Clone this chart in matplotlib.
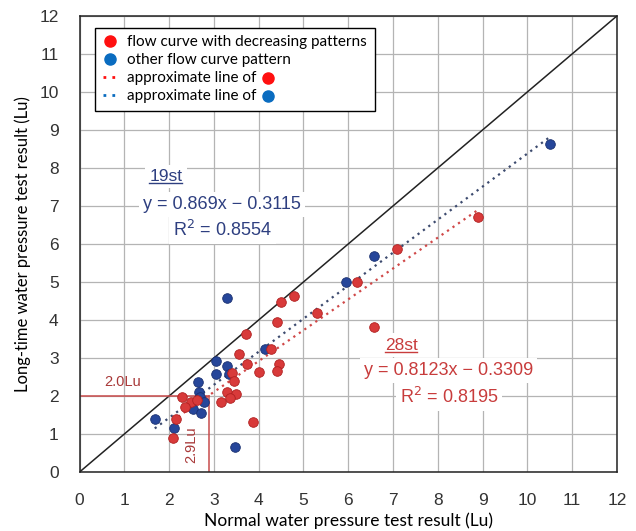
import matplotlib
matplotlib.use("Agg")
import matplotlib.pyplot as plt
from matplotlib.lines import Line2D
import numpy as np

# Flow curve with decreasing patterns (red): normal test (Lu), long-time test (Lu)
red_normal = [8.89, 7.08, 6.19, 6.57, 5.31, 4.79, 4.51, 4.40, 3.71, 4.27,
              3.57, 3.75, 4.46, 4.42, 4.01, 3.40, 3.45, 3.29, 3.49, 3.36,
              2.28, 2.50, 3.17, 2.35, 2.15, 3.87, 2.08, 2.62]
red_long = [6.71, 5.86, 5.00, 3.82, 4.19, 4.62, 4.48, 3.96, 3.62, 3.24,
            3.10, 2.83, 2.83, 2.67, 2.62, 2.60, 2.39, 2.11, 2.05, 1.95,
            1.98, 1.85, 1.85, 1.71, 1.39, 1.32, 0.90, 1.90]

# Other flow curve pattern (blue)
blue_normal = [10.50, 6.57, 5.95, 3.30, 4.15, 3.04, 3.29, 3.05, 3.34, 2.65,
               2.67, 2.68, 2.79, 2.53, 2.71, 1.68, 2.11, 3.47]
blue_long = [8.62, 5.69, 5.00, 4.57, 3.25, 2.93, 2.80, 2.57, 2.57, 2.37,
             2.11, 1.98, 1.85, 1.65, 1.55, 1.39, 1.17, 0.65]

# approximate lines (slope, intercept)
red_fit = (0.8123, -0.3309)
blue_fit = (0.869, -0.3115)

# 2.0Lu / 2.9Lu guide
guide_x = 2.9
guide_y = 2.0

ticks = list(range(0, 13))

RED_PT = '#d83a3a'
BLUE_PT = '#26469a'
RED_TXT = '#c83c3c'
BLUE_TXT = '#2e3f80'

fig = plt.figure(figsize=(6.36, 5.31), dpi=100)
ax = fig.add_axes([0.125, 0.111, 0.845, 0.859])

ax.set_xlim(0, 12)
ax.set_ylim(0, 12)
ax.set_xticks(ticks)
ax.set_yticks(ticks)
ax.grid(True, color='#b4b4b4', linewidth=0.9)
ax.set_axisbelow(True)
for s in ax.spines.values():
    s.set_linewidth(1.1)
    s.set_color('#222222')
ax.tick_params(length=0, pad=15, labelsize=12.5)
for lab in ax.get_xticklabels() + ax.get_yticklabels():
    lab.set_family(['Liberation Sans Narrow', 'Liberation Sans'])
    lab.set_color('#333333')

# 1:1 line
ax.plot([0, 12], [0, 12], color='#222222', linewidth=1.1, zorder=2)

# guide lines
ax.plot([0, guide_x], [guide_y, guide_y], color='#c84b4b', linewidth=1.1, zorder=2)
ax.plot([guide_x, guide_x], [0, guide_y], color='#c84b4b', linewidth=1.1, zorder=2)
ax.text(0.97, 2.37, '2.0Lu', color='#a83838', fontsize=10.5, ha='center', va='center',
        family=['Liberation Sans Narrow', 'Liberation Sans'])
ax.text(2.50, 0.71, '2.9Lu', color='#a83838', fontsize=10.5, ha='center', va='center',
        rotation=90, family=['Liberation Sans Narrow', 'Liberation Sans'])

# approximate lines
xr = np.array([min(red_normal), max(red_normal)])
ax.plot(xr, red_fit[0] * xr + red_fit[1], color='#d04848', linewidth=1.6,
        linestyle=(0, (1, 2)), zorder=3)
xb = np.array([min(blue_normal), max(blue_normal)])
ax.plot(xb, blue_fit[0] * xb + blue_fit[1], color='#3c4a6e', linewidth=1.6,
        linestyle=(0, (1, 2)), zorder=3)

# points
ax.scatter(blue_normal, blue_long, s=48, color=BLUE_PT, edgecolors='#1a3070',
           linewidths=0.6, zorder=4)
ax.scatter(red_normal, red_long, s=48, color=RED_PT, edgecolors='#b02020',
           linewidths=0.6, zorder=5)

# equation labels
box = dict(facecolor='white', edgecolor='none', pad=3)
eq_font = ['Liberation Sans']
t19 = ax.text(1.93, 7.77, '19st', color=BLUE_TXT, fontsize=12.5, ha='center', va='center',
              family=eq_font, bbox=box, zorder=6)
ax.text(3.18, 7.03, 'y = 0.869x \u2212 0.3115', color=BLUE_TXT, fontsize=13,
        ha='center', va='center', family=eq_font, bbox=box, zorder=6)
ax.text(3.19, 6.37, 'R$^2$ = 0.8554', color=BLUE_TXT, fontsize=13,
        ha='center', va='center', family=eq_font, bbox=box, zorder=6)

t28 = ax.text(7.18, 3.34, '28st', color=RED_TXT, fontsize=12.5, ha='center', va='center',
              family=eq_font, bbox=box, zorder=6)
ax.text(8.24, 2.68, 'y = 0.8123x \u2212 0.3309', color=RED_TXT, fontsize=13,
        ha='center', va='center', family=eq_font, bbox=box, zorder=6)
ax.text(8.25, 1.98, 'R$^2$ = 0.8195', color=RED_TXT, fontsize=13,
        ha='center', va='center', family=eq_font, bbox=box, zorder=6)

ax.set_xlabel('Normal water pressure test result (Lu)', family='Lato',
              fontsize=12.5, labelpad=3)
ax.set_ylabel('Long-time water pressure test result (Lu)', family='Lato',
              fontsize=12, labelpad=6)

# legend
handles = [
    Line2D([], [], marker='o', linestyle='none', color='#ff1010', markersize=8),
    Line2D([], [], marker='o', linestyle='none', color='#0a6cc0', markersize=8),
    Line2D([], [], linestyle=(0, (1, 2.2)), color='#ff1010', linewidth=2),
    Line2D([], [], linestyle=(0, (1, 2.2)), color='#0a6cc0', linewidth=2),
]
labels = ['flow curve with decreasing patterns', 'other flow curve pattern',
          'approximate line of', 'approximate line of']
leg = ax.legend(handles, labels, loc='upper left', bbox_to_anchor=(0.029, 0.974),
                borderaxespad=0, fancybox=False, framealpha=1, edgecolor='black',
                prop={'family': 'Lato', 'size': 11}, handlelength=1.0,
                handletextpad=0.6, labelspacing=0.25, borderpad=0.5)
leg.get_frame().set_linewidth(1.0)
leg.set_zorder(10)

fig.canvas.draw()
inv = fig.transFigure.inverted()
for txt, col in zip(leg.get_texts()[2:], ['#ff1010', '#0a6cc0']):
    bb = txt.get_window_extent()
    fx, fy = inv.transform((bb.x1 + 11, (bb.y0 + bb.y1) / 2))
    fig.add_artist(Line2D([fx], [fy], marker='o', color=col, markersize=8,
                          transform=fig.transFigure, zorder=11))

# underline the "19st" / "28st" labels
for t, col in [(t19, BLUE_TXT), (t28, RED_TXT)]:
    bb = t.get_window_extent()
    (x0, y0), (x1, _) = inv.transform([(bb.x0, bb.y0 + 1), (bb.x1, bb.y0 + 1)])
    fig.add_artist(Line2D([x0, x1], [y0, y0], color=col, linewidth=1.0,
                          transform=fig.transFigure, zorder=11))

fig.savefig('out.png', dpi=100, facecolor='white')
